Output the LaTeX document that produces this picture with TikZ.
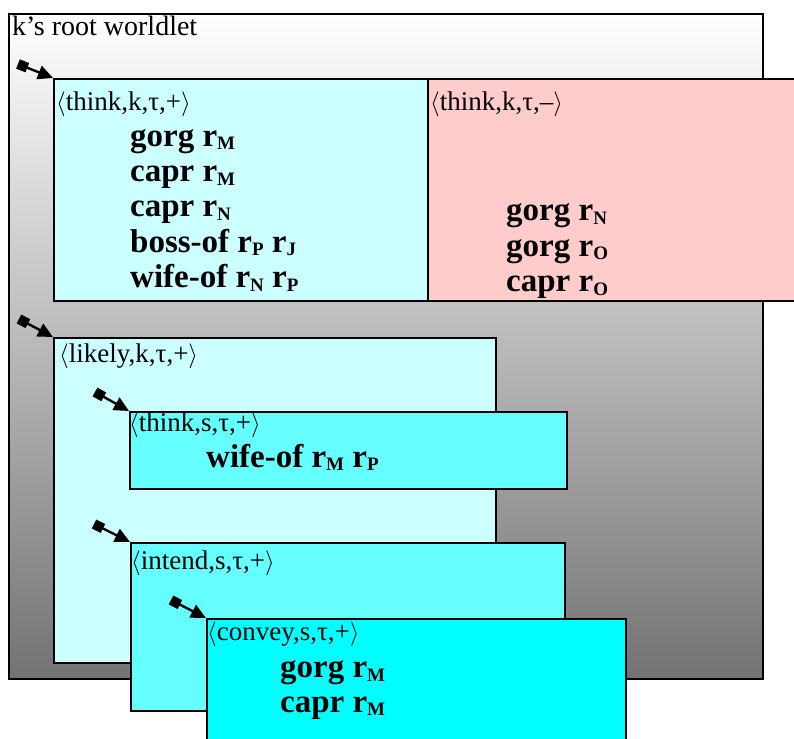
\documentclass[tikz,border=0pt]{standalone}
\usepackage{fontspec}
\setmainfont{Liberation Serif}
\usetikzlibrary{positioning,arrows.meta}

\definecolor{paleaqua}{HTML}{CCFFFF}
\definecolor{midaqua}{HTML}{66FFFF}
\definecolor{fullaqua}{HTML}{00FFFF}
\definecolor{palerose}{HTML}{FFCCCC}

\newcommand{\rr}[1]{r\raisebox{-3.5pt}{\fontsize{19}{19}\selectfont #1}}
\newcommand{\tup}[1]{$\langle$#1$\rangle$}

\tikzset{
    wbox/.style={draw, line width=1.6pt, rectangle, anchor=north west, inner sep=0pt},
    tuple/.style={anchor=base west, inner sep=0pt, font=\fontsize{27}{30}\selectfont},
    entry/.style={anchor=base west, inner sep=0pt, font=\fontsize{33}{36}\selectfont\bfseries},
    link/.style={line width=2.4pt, {Square[length=10pt,width=10pt]}-{Triangle[length=15pt,width=14pt]}}
}

\begin{document}
\begin{tikzpicture}[x=1pt, y=-1pt]
    \path[use as bounding box, clip] (0,0) rectangle (794,738);

    % Worldlets
    \node[wbox, top color=white, bottom color=black!55, minimum width=754pt, minimum height=665pt] (root) at (8,13) {};
    \node[anchor=base west, inner sep=0pt, font=\fontsize{28}{30}\selectfont] (rootlbl) at (12,36) {k’s root worldlet};

    \node[wbox, fill=paleaqua, minimum width=374pt, minimum height=222pt] (thinkpos) at (53,78) {};
    \node[wbox, fill=palerose, minimum width=400pt, minimum height=222pt] (thinkneg) at (427,78) {};
    \node[wbox, fill=paleaqua, minimum width=442pt, minimum height=325pt] (likely) at (53,337) {};
    \node[wbox, fill=midaqua, minimum width=437pt, minimum height=77pt] (thinks) at (129,411) {};
    \node[wbox, fill=midaqua, minimum width=434pt, minimum height=168pt] (intend) at (130,542) {};
    \node[wbox, fill=fullaqua, minimum width=419pt, minimum height=150pt] (convey) at (206,618) {};

    % Tuples
    \node[tuple] (tpos) at (56,111) {\tup{think,k,τ,+}};
    \node[tuple] (tneg) at (430,111) {\tup{think,k,τ,–}};
    \node[tuple] (tlik) at (59,362) {\tup{likely,k,τ,+}};
    \node[tuple] (tths) at (129,431) {\tup{think,s,τ,+}};
    \node[tuple] (tint) at (131,569) {\tup{intend,s,τ,+}};
    \node[tuple] (tcon) at (207,640) {\tup{convey,s,τ,+}};

    % Facts
    \foreach \f [count=\i] in {gorg \rr{M}, capr \rr{M}, capr \rr{N}, boss-of \rr{P} \rr{J}, wife-of \rr{N} \rr{P}}
        \node[entry] (fpos\i) at (130,{111+35.3*\i}) {\f};
    \foreach \f [count=\i] in {gorg \rr{N}, gorg \rr{O}, capr \rr{O}}
        \node[entry] (fneg\i) at (506,{185+35.5*\i}) {\f};
    \node[entry] (fths) at (206,467) {wife-of \rr{M} \rr{P}};
    \foreach \f [count=\i] in {gorg \rr{M}, capr \rr{M}}
        \node[entry] (fcon\i) at (280,{643+34.5*\i}) {\f};

    % Links
    \coordinate (l1) at (18,64);
    \coordinate (l2) at (19,319);
    \coordinate (l3) at (95,392);
    \coordinate (l4) at (94,524);
    \coordinate (l5) at (171,600);
    \draw[link] (l1) -- (thinkpos.north west);
    \draw[link] (l2) -- (likely.north west);
    \draw[link] (l3) -- (thinks.north west);
    \draw[link] (l4) -- (intend.north west);
    \draw[link] (l5) -- (convey.north west);
\end{tikzpicture}
\end{document}
